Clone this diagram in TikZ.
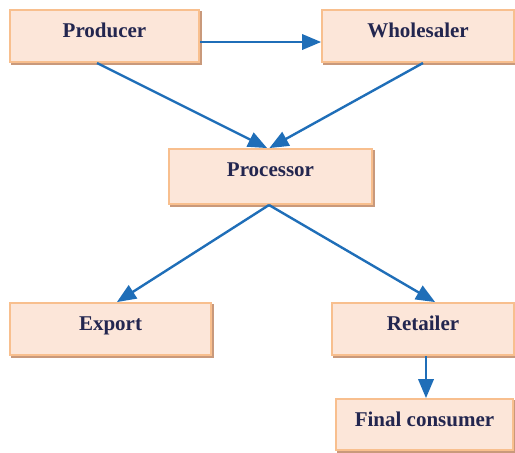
\documentclass[tikz,border=0pt]{standalone}
\usepackage{fontspec}
\setmainfont{Liberation Serif}
\usepackage{tikz}
\usetikzlibrary{arrows,shadows}

\definecolor{boxfill}{HTML}{FCE6D9}
\definecolor{boxline}{HTML}{F8BF8E}
\definecolor{boxshade}{HTML}{C9997B}
\definecolor{flow}{HTML}{1F6EB8}
\definecolor{label}{HTML}{23264F}

\begin{document}
\begin{tikzpicture}[x=0.5pt, y=-0.5pt, ->, >=triangle 45]
    \tikzset{stage/.style={draw=boxline, fill=boxfill, line width=1pt, rectangle,
        copy shadow={shadow xshift=1pt, shadow yshift=-1pt, draw=boxshade, fill=boxshade},
        inner ysep=0pt, text height=13.7pt, text depth=12.3pt,
        font=\fontsize{10.5}{12}\selectfont\bfseries, text=label},
      flowline/.style={color=flow, line width=1.2pt}}
    \useasboundingbox (0,0) rectangle (515,452);
    \node[stage, minimum width=94.5pt] (producer)   at (104.5,36)  {Producer};
    \node[stage, minimum width=96pt]   (wholesaler) at (418,36)    {Wholesaler};
    \node[stage, minimum width=101.5pt, text depth=13.8pt] (processor) at (270.5,176.5) {Processor};
    \node[stage, minimum width=100.5pt] (export)    at (110.5,329) {Export};
    \node[stage, minimum width=91pt]    (retailer)  at (423,329)   {Retailer};
    \node[stage, minimum width=88.5pt, text depth=11.8pt] (consumer) at (424.5,424.5) {Final consumer};
    \path[flowline]
          ([yshift=-3pt]producer.east)     edge ([yshift=-3pt]wholesaler.west)
          ([xshift=-3.75pt]producer.south) edge ([xshift=-1.75pt]processor.north)
          ([xshift=2.5pt]wholesaler.south) edge ([xshift=-0.5pt]processor.north)
          ([xshift=-0.75pt]processor.south) edge ([xshift=3.25pt]export.north)
          ([xshift=-0.75pt]processor.south) edge ([xshift=6pt]retailer.north)
          ([xshift=1.5pt]retailer.south)   edge ([xshift=0.75pt]consumer.north);
\end{tikzpicture}
\end{document}
